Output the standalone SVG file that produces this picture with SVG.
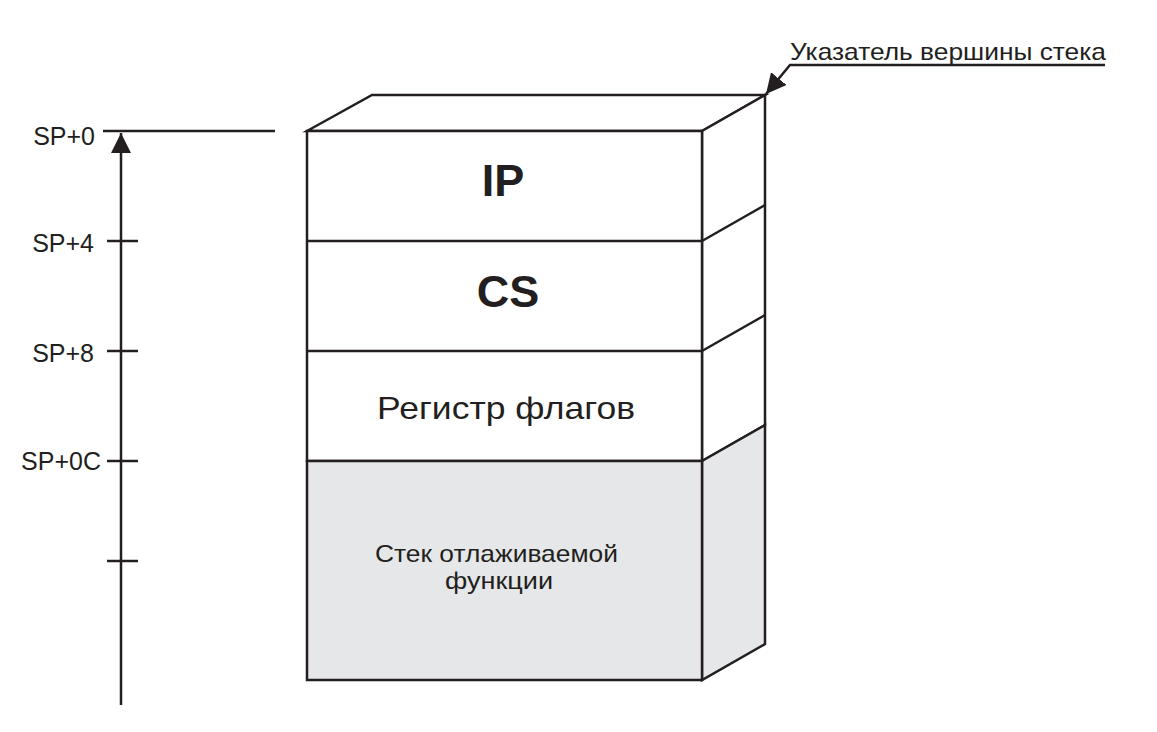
<svg xmlns="http://www.w3.org/2000/svg" width="1157" height="732" viewBox="0 0 1157 732">
<style>
.ln{stroke:#231f20;stroke-width:2.5;fill:none;stroke-linejoin:miter}
.box{stroke:#231f20;stroke-width:2.5;fill:#fff}
.sh{stroke:#231f20;stroke-width:2.5;fill:#e6e7e8}
.t{font-family:"Liberation Sans",Arial,sans-serif;fill:#231f20}
.lab{font-size:25px}
</style>
<defs>
<marker id="ar2" viewBox="0 0 20 20" refX="20" refY="10" markerWidth="20" markerHeight="20" markerUnits="userSpaceOnUse" orient="auto">
<path d="M0,0 L20,10 L0,20 z" fill="#231f20"/>
</marker>
</defs>
<rect width="1157" height="732" fill="#fff"/>
<g id="stack">
<polygon class="box" points="307,131 372,95 765,95 702,131"/>
<polygon class="box" points="702,131 765,95 765,425 702,461"/>
<polygon class="sh" points="702,461 765,425 765,644 702,680"/>
<rect class="box" x="307" y="131" width="395" height="330"/>
<rect class="sh" x="307" y="461" width="395" height="219"/>
<line class="ln" x1="307" y1="241" x2="702" y2="241"/>
<line class="ln" x1="307" y1="351" x2="702" y2="351"/>
<line class="ln" x1="702" y1="241" x2="765" y2="205"/>
<line class="ln" x1="702" y1="351" x2="765" y2="315"/>
</g>
<g id="ip"><text class="t" x="503" y="196" font-size="45" font-weight="bold" text-anchor="middle">IP</text></g>
<g id="cs"><text class="t" x="508" y="307" font-size="45" font-weight="bold" text-anchor="middle">CS</text></g>
<g id="flags"><text class="t" x="377" y="419" font-size="32" textLength="258" lengthAdjust="spacingAndGlyphs">Регистр флагов</text></g>
<g id="func"><text class="t" x="375" y="562" font-size="24" textLength="243" lengthAdjust="spacingAndGlyphs">Стек отлаживаемой</text><text class="t" x="445" y="589" font-size="24" textLength="108" lengthAdjust="spacingAndGlyphs">функции</text></g>
<g id="axis">
<text class="t lab" x="95" y="145" text-anchor="end">SP+0</text>
<text class="t lab" x="94" y="252" text-anchor="end">SP+4</text>
<text class="t lab" x="94" y="362" text-anchor="end">SP+8</text>
<text class="t lab" x="101" y="470" text-anchor="end">SP+0C</text>
</g>
<g id="connectors">
<line class="ln" x1="103" y1="131" x2="275" y2="131"/>
<line class="ln" x1="121" y1="705" x2="121" y2="133" marker-end="url(#ar2)"/>
<line class="ln" x1="107" y1="241" x2="138" y2="241"/>
<line class="ln" x1="107" y1="351" x2="138" y2="351"/>
<line class="ln" x1="107" y1="461" x2="138" y2="461"/>
<line class="ln" x1="107" y1="561" x2="138" y2="561"/>
<polyline class="ln" points="1105,65 790,65 766,94" marker-end="url(#ar2)"/>
</g>
<g id="pointer"><text class="t" x="790" y="60" font-size="24" textLength="316" lengthAdjust="spacingAndGlyphs">Указатель вершины стека</text></g>
</svg>
